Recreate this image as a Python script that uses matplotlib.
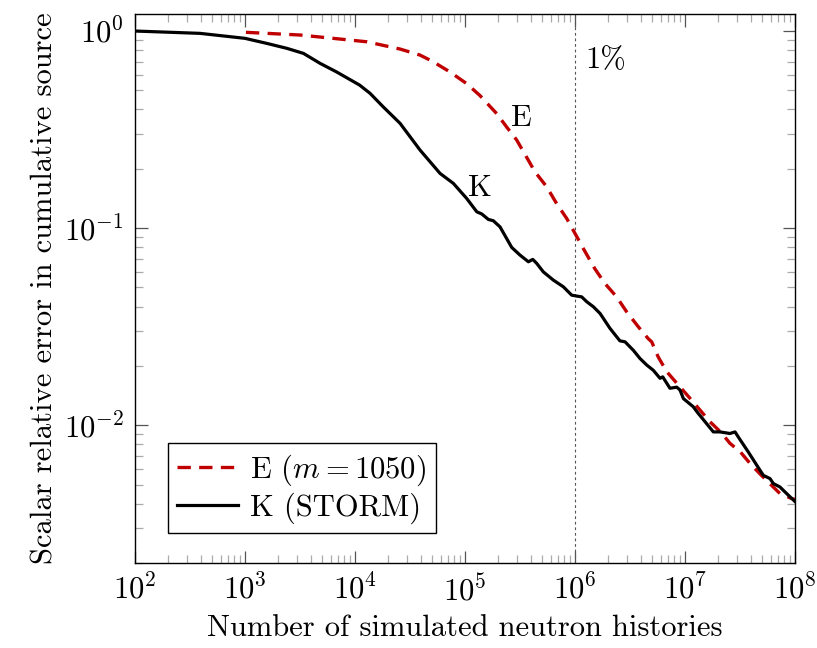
"""Cumulative-source relative error vs number of neutron histories (E vs K)."""
import matplotlib
matplotlib.use("Agg")
import matplotlib.pyplot as plt
from matplotlib.ticker import NullFormatter

# K (STORM) - solid black
k_x = [1e2, 3.9e2, 1e3, 1.57e3, 2.4e3, 3.4e3, 4.8e3, 6.8e3, 1.1e4, 1.37e4,
       1.8e4, 2.57e4, 3.9e4, 5.93e4, 7.84e4, 1.035e5, 1.28e5, 1.42e5, 1.63e5,
       1.81e5, 2.08e5, 2.39e5, 2.66e5, 3.16e5, 3.77e5, 4.13e5, 4.49e5, 5.15e5,
       6.35e5, 7.83e5, 9.33e5, 1.04e6, 1.15e6, 1.28e6, 1.47e6, 1.69e6, 2.08e6,
       2.56e6, 2.85e6, 3.39e6, 3.9e6, 4.49e6, 5.15e6, 5.93e6, 6.27e6, 7.3e6,
       8.4e6, 9.0e6, 9.67e6, 1.19e7, 1.3e7, 1.81e7, 2.08e7, 2.56e7, 2.85e7,
       3.05e7, 3.76e7, 4.49e7, 5.15e7, 5.93e7, 6.35e7, 7.3e7, 8.4e7, 1.0e8]
k_y = [1.0, 0.973, 0.918, 0.866, 0.817, 0.77, 0.686, 0.62, 0.532, 0.483,
       0.413, 0.34, 0.249, 0.1895, 0.1686, 0.1415, 0.121, 0.118, 0.1107,
       0.109, 0.1015, 0.0886, 0.0798, 0.073, 0.0675, 0.0694, 0.0662, 0.060,
       0.0545, 0.0504, 0.0457, 0.0452, 0.0448, 0.0423, 0.0399, 0.0369, 0.031,
       0.0268, 0.0265, 0.024, 0.0218, 0.0202, 0.019, 0.0173, 0.0176, 0.0154,
       0.0156, 0.0151, 0.01365, 0.0124, 0.0116, 0.00925, 0.00925, 0.00908, 0.00925,
       0.00872, 0.00732, 0.00627, 0.00557, 0.00536, 0.00506, 0.00486, 0.0045, 0.0041]

# E (m = 1050) - dashed red
e_x = [1.02e3, 3.2e3, 1.28e4, 2.57e4, 3.9e4, 5.1e4, 7.3e4, 1.04e5, 1.37e5,
       1.95e5, 2.4e5, 2.95e5, 4.33e5, 5.53e5, 6.82e5, 8.4e5, 1.0e6, 1.19e6,
       1.51e6, 1.87e6, 2.39e6, 2.95e6, 3.76e6, 4.63e6, 4.98e6, 5.71e6, 6.82e6,
       8.7e6, 1.11e7, 1.69e7, 2.0e7, 2.23e7, 2.56e7, 3.2e7, 3.9e7, 4.9e7,
       7.3e7, 9.3e7, 1.0e8]
e_y = [0.985, 0.954, 0.882, 0.81, 0.755, 0.70, 0.62, 0.54, 0.47,
       0.38, 0.325, 0.28, 0.193, 0.162, 0.133, 0.112, 0.094, 0.0788,
       0.0624, 0.0524, 0.0448, 0.0376, 0.0316, 0.0275, 0.0265, 0.0222, 0.0187,
       0.016, 0.0137, 0.0104, 0.0095, 0.0089, 0.0081, 0.0073, 0.0064, 0.0056,
       0.0045, 0.00425, 0.0042]

plt.rcParams["font.family"] = "cmr10"
plt.rcParams["mathtext.fontset"] = "cm"
plt.rcParams["axes.formatter.use_mathtext"] = True
FS = 22

fig = plt.figure(figsize=(8.17, 6.48), dpi=100)
ax = fig.add_axes([135 / 817, 1 - 563 / 648, 660 / 817, 549 / 648])

ax.plot(e_x, e_y, color="#c00000", lw=2.4, ls=(0, (4, 2.5)), label="E ($m = 1050$)")
ax.plot(k_x, k_y, color="black", lw=2.3, label="K (STORM)")
ax.axvline(1e6, color="#555555", lw=0.8, ls=(0, (2.5, 2.5)), zorder=0)

ax.text(1.25e6, 0.71, "1%", fontsize=FS, ha="left", va="center")
ax.text(2.6e5, 0.362, "E", fontsize=FS, ha="left", va="center")
ax.text(1.06e5, 0.16, "K", fontsize=FS, ha="left", va="center")

ax.set_xscale("log"); ax.set_yscale("log")
ax.set_xlim(1e2, 1e8); ax.set_ylim(2.0e-3, 1.22)
ax.yaxis.set_minor_formatter(NullFormatter())
ax.xaxis.set_minor_formatter(NullFormatter())

ax.tick_params(which="both", direction="in", top=True, right=True, labelsize=FS, pad=8)
ax.tick_params(which="major", length=9, width=0.9, color="#555555")
ax.tick_params(which="minor", length=5.5, width=0.9, color="#aaaaaa")
for sp in ax.spines.values():
    sp.set_linewidth(1.0)

ax.set_xlabel("Number of simulated neutron histories", fontsize=FS, labelpad=6)
ax.set_ylabel("Scalar relative error in cumulative source", fontsize=FS, labelpad=4)

leg = ax.legend(loc="lower left", bbox_to_anchor=(0.05, 0.055), fontsize=FS,
                fancybox=False, edgecolor="black", framealpha=1,
                handlelength=2.0, borderpad=0.3, labelspacing=0.15, handletextpad=0.4,
                borderaxespad=0)
leg.get_frame().set_linewidth(1.0)

fig.savefig("out.png", dpi=100)
